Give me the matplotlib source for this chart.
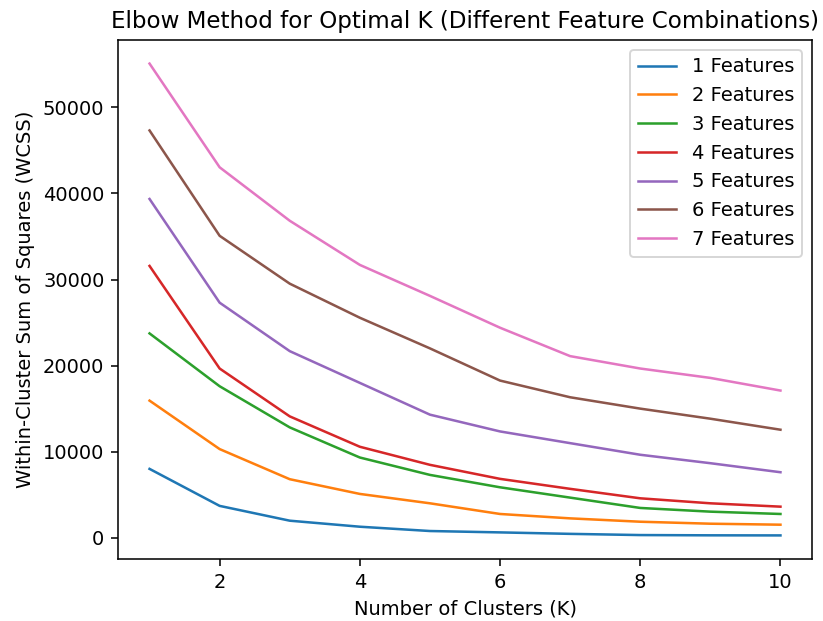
import numpy as np
import matplotlib.pyplot as plt

k_values = list(range(1, 11))

wcss_1 = [8000, 3700, 1980, 1280, 780, 620, 450, 310, 280, 270]
wcss_2 = [15930, 10300, 6800, 5090, 4000, 2760, 2250, 1860, 1630, 1515]
wcss_3 = [23740, 17600, 12820, 9320, 7300, 5860, 4660, 3460, 3030, 2760]
wcss_4 = [31580, 19660, 14100, 10570, 8470, 6840, 5680, 4580, 4000, 3610]
wcss_5 = [39360, 27310, 21680, 17990, 14300, 12350, 10990, 9640, 8660, 7610]
wcss_6 = [47320, 35080, 29520, 25560, 22000, 18260, 16320, 15000, 13830, 12550]
wcss_7 = [55090, 43040, 36830, 31700, 28100, 24400, 21100, 19660, 18570, 17100]

all_wcss = [wcss_1, wcss_2, wcss_3, wcss_4, wcss_5, wcss_6, wcss_7]

W, H = 823, 621
fig = plt.figure(figsize=(W / 140, H / 140), dpi=140)
ax = fig.add_axes([118 / W, 1 - 559 / H, 694 / W, 519 / H])

for i, wcss in enumerate(all_wcss):
    ax.plot(k_values, wcss, label=str(i + 1) + ' Features', linewidth=1.3)

ax.set_title('Elbow Method for Optimal K (Different Feature Combinations)', fontsize=11.8)
ax.set_xlabel('Number of Clusters (K)')
ax.set_ylabel('Within-Cluster Sum of Squares (WCSS)')
ax.legend()

plt.savefig('out.png')
